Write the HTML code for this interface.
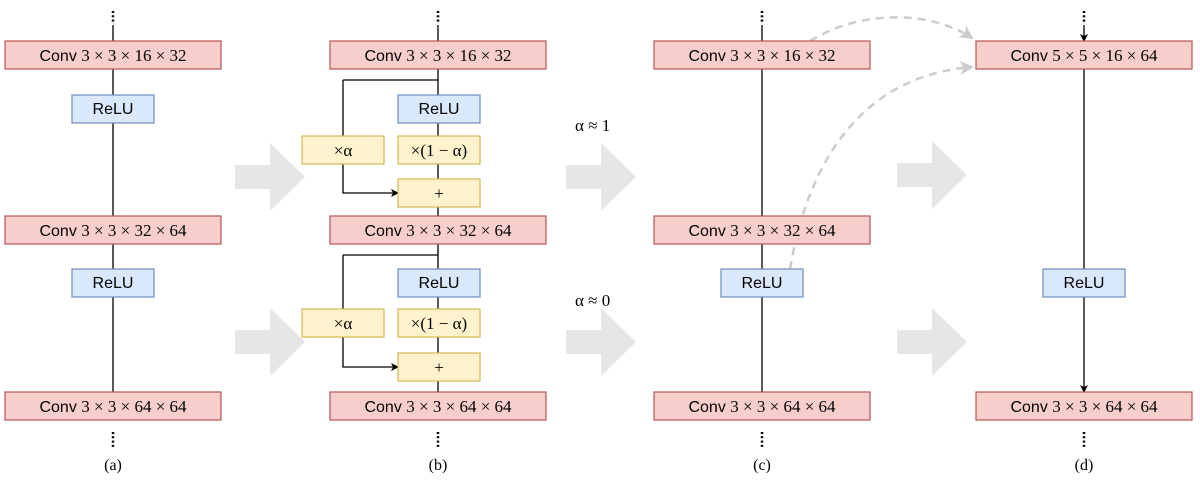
<!DOCTYPE html>
<html><head><meta charset="utf-8"><style>
body{margin:0;background:#fff}
svg text{font-family:"Liberation Sans",sans-serif;font-size:16px}
.m{font-family:"Liberation Serif",serif;font-size:17px}
</style></head><body>
<svg width="1200" height="479" viewBox="0 0 1200 479" xmlns="http://www.w3.org/2000/svg">
<defs>
<marker id="a" markerWidth="8" markerHeight="8" refX="7" refY="4" orient="auto" markerUnits="userSpaceOnUse"><path d="M0,0 L8,4 L0,8 L2,4z" fill="#000"/></marker>
<marker id="g" markerWidth="14" markerHeight="14" refX="12" refY="7" orient="auto" markerUnits="userSpaceOnUse"><path d="M0,0 L14,7 L0,14 L4,7z" fill="#ccc"/></marker>
<g id="conv"><rect x="0" y="0" width="216" height="28" fill="#f8cecc" stroke="#b85450" stroke-width="1.2"/></g>
<g id="relu"><rect x="0" y="0" width="82" height="28" fill="#dae8fc" stroke="#6c8ebf" stroke-width="1.2"/><text x="41" y="19" text-anchor="middle">ReLU</text></g>
<g id="y"><rect x="0" y="0" width="82" height="28" fill="#fff2cc" stroke="#d6b656" stroke-width="1.2"/></g>
<polygon id="ga" points="0,10 35,10 35,-12 70,22 35,56 35,34 0,34" fill="#e6e6e6"/>
</defs>
<!-- gray arrows -->
<use href="#ga" x="235" y="155"/><use href="#ga" x="235" y="320"/>
<use href="#ga" x="566" y="155"/><use href="#ga" x="566" y="320"/>
<use href="#ga" x="897" y="153"/><use href="#ga" x="897" y="320"/>
<text x="575" y="131" class="m">α ≈ 1</text>
<text x="575" y="306" class="m">α ≈ 0</text>
<!-- dashed curves -->
<path d="M810,41 C860,10 930,10 972,38" fill="none" stroke="#ccc" stroke-width="2.5" stroke-dasharray="8,6" marker-end="url(#g)"/>
<path d="M790,269 C810,150 870,75 972,67" fill="none" stroke="#ccc" stroke-width="2.5" stroke-dasharray="8,6" marker-end="url(#g)"/>
<g stroke="#000" stroke-width="1.3" fill="none">
<!-- dots -->
<path d="M113,11 V24 M438,11 V24 M762,11 V24 M1084,11 V24 M113,432 V447 M438,432 V447 M762,432 V447 M1084,432 V447" stroke-dasharray="2,2.3" stroke-width="2.5"/>
<!-- a -->
<path d="M113,25 V41 M113,69 V95 M113,123 V216 M113,244 V269 M113,297 V392 M438,25 V41 M762,25 V41 M1084,25 V41" marker-end="url(#a)"/>
<!-- b -->
<path d="M438,69 V95 M438,123 V136 M438,164 V179 M438,207 V216 M343,80 H438 M343,80 V136 M343,164 V193 H398" marker-end="url(#a)"/>
<path d="M438,244 V269 M438,297 V309 M438,337 V353 M438,381 V392 M343,255 H438 M343,255 V309 M343,337 V367 H398" marker-end="url(#a)"/>
<!-- c,d -->
<path d="M762,69 V216 M762,244 V269 M762,297 V392 M1084,69 V269 M1084,297 V392" marker-end="url(#a)"/>
</g>
<!-- boxes -->
<use href="#conv" x="5" y="41"/><use href="#conv" x="5" y="216"/><use href="#conv" x="5" y="392"/>
<use href="#relu" x="72" y="95"/><use href="#relu" x="72" y="269"/>
<use href="#conv" x="330" y="41"/><use href="#conv" x="330" y="216"/><use href="#conv" x="330" y="392"/>
<use href="#relu" x="398" y="95"/><use href="#relu" x="398" y="269"/>
<use href="#y" x="302" y="136"/><use href="#y" x="398" y="136"/><use href="#y" x="398" y="179"/>
<use href="#y" x="302" y="309"/><use href="#y" x="398" y="309"/><use href="#y" x="398" y="353"/>
<use href="#conv" x="654" y="41"/><use href="#conv" x="654" y="216"/><use href="#conv" x="654" y="392"/>
<use href="#relu" x="721" y="269"/>
<use href="#conv" x="976" y="41"/><use href="#conv" x="976" y="392"/>
<use href="#relu" x="1043" y="269"/>
<g text-anchor="middle">
<text x="113" y="61">Conv <tspan class="m">3 × 3 × 16 × 32</tspan></text>
<text x="113" y="236">Conv <tspan class="m">3 × 3 × 32 × 64</tspan></text>
<text x="113" y="412">Conv <tspan class="m">3 × 3 × 64 × 64</tspan></text>
<text x="438" y="61">Conv <tspan class="m">3 × 3 × 16 × 32</tspan></text>
<text x="438" y="236">Conv <tspan class="m">3 × 3 × 32 × 64</tspan></text>
<text x="438" y="412">Conv <tspan class="m">3 × 3 × 64 × 64</tspan></text>
<text x="762" y="61">Conv <tspan class="m">3 × 3 × 16 × 32</tspan></text>
<text x="762" y="236">Conv <tspan class="m">3 × 3 × 32 × 64</tspan></text>
<text x="762" y="412">Conv <tspan class="m">3 × 3 × 64 × 64</tspan></text>
<text x="1084" y="61">Conv <tspan class="m">5 × 5 × 16 × 64</tspan></text>
<text x="1084" y="412">Conv <tspan class="m">3 × 3 × 64 × 64</tspan></text>
<text x="343" y="156" class="m">×α</text>
<text x="439" y="156" class="m">×(1 − α)</text>
<text x="439" y="199" class="m">+</text>
<text x="343" y="329" class="m">×α</text>
<text x="439" y="329" class="m">×(1 − α)</text>
<text x="439" y="373" class="m">+</text>
<text x="113" y="470" class="m" style="font-size:16px">(a)</text>
<text x="438" y="470" class="m" style="font-size:16px">(b)</text>
<text x="762" y="470" class="m" style="font-size:16px">(c)</text>
<text x="1084" y="470" class="m" style="font-size:16px">(d)</text>
</g>
</svg>
</body></html>
